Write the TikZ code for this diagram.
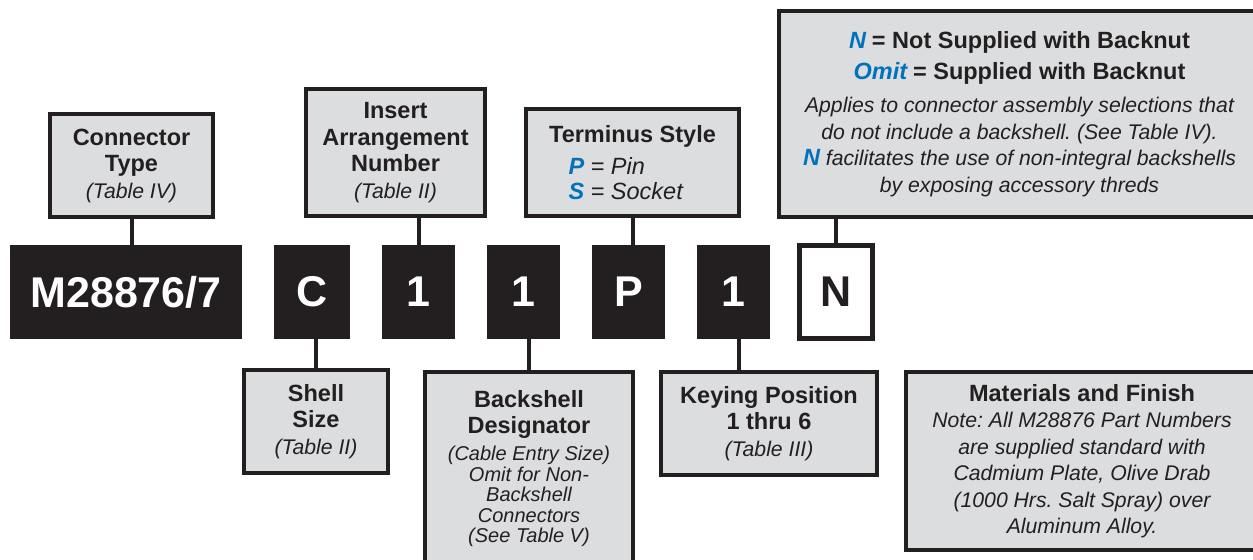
\documentclass[tikz,border=0pt]{standalone}
\usepackage{fontspec}
\setmainfont{Liberation Sans}
\usetikzlibrary{positioning}
\frenchspacing

\definecolor{ink}{HTML}{231F20}
\definecolor{boxgray}{HTML}{DCDDDF}
\definecolor{codeblue}{HTML}{0072BC}

\newcommand{\boxtitle}[1]{{\fontsize{11.75}{13.25}\selectfont\bfseries\upshape #1}}
\newcommand{\keyletter}[1]{{\fontsize{11.75}{13.25}\selectfont\bfseries\itshape\color{codeblue}#1}}

\begin{document}
\begin{tikzpicture}[
    x=0.5pt, y=-0.5pt,
    codebox/.style={rectangle, fill=ink, text=white, inner sep=0pt, outer sep=0pt, minimum width=36.5pt, minimum height=47pt, font=\fontsize{21.5}{24}\selectfont\bfseries},
    nbox/.style={rectangle, draw=ink, fill=white, line width=2.5pt, text=ink, inner sep=0pt, minimum width=36.5pt, minimum height=46.5pt, font=\fontsize{21.5}{24}\selectfont\bfseries},
    infobox/.style={rectangle, draw=ink, fill=boxgray, line width=2pt, align=center, inner sep=0pt, text=ink, font=\fontsize{10.6}{13.25}\selectfont\itshape},
    link/.style={draw=ink, line width=2pt}
]
\useasboundingbox (0,0) rectangle (1253,559);
\clip (0,0) rectangle (1253,559);

% Part number
\node[codebox, minimum width=116pt] (m) at (126,292) {M28876/7};
\node[codebox, minimum width=38pt, right=16pt of m] (c) {C};
\node[codebox, right=16pt of c] (ins) {1};
\node[codebox, right=16pt of ins] (bs) {1};
\node[codebox, right=16pt of bs] (p) {P};
\node[codebox, right=16pt of p] (key) {1};
\node[nbox, right=13.5pt of key] (nn) {N};

% Upper notes
\node[infobox, minimum width=81.5pt, minimum height=51.5pt] (ctype) at (131.5,165.5)
    {\boxtitle{Connector}\\\boxtitle{Type}\\(Table IV)};
\node[infobox, minimum width=89.5pt, minimum height=63.5pt] (arr) at (395.5,152.5)
    {\boxtitle{Insert}\\\boxtitle{Arrangement}\\\boxtitle{Number}\\(Table II)};
\node[infobox, minimum width=106.5pt, minimum height=53.5pt] (term) at (632.5,162.5)
    {\boxtitle{Terminus Style}\\[2.75pt]
     \makebox[64pt][l]{\fontsize{11.75}{13.25}\selectfont\keyletter{P} = Pin}\\[-0.75pt]
     \makebox[64pt][l]{\fontsize{11.75}{13.25}\selectfont\keyletter{S} = Socket}};
\node[infobox, minimum width=240.5pt, minimum height=103pt] (nnote) at (1019.5,114)
    {\keyletter{N} \boxtitle{= Not Supplied with Backnut}\\[2.25pt]
     \keyletter{Omit} \boxtitle{= Supplied with Backnut}\\[3.25pt]
     Applies to connector assembly selections that\\
     do not include a backshell. (See Table IV).\\
     \keyletter{N} facilitates the use of non-integral backshells\\
     by exposing accessory threds};

% Lower notes
\node[infobox, minimum width=72pt, minimum height=51.5pt] (shell) at (316,421.5)
    {\boxtitle{Shell}\\\boxtitle{Size}\\(Table II)};
\node[infobox, minimum width=104pt, minimum height=97pt, font=\fontsize{10}{10.25}\selectfont\itshape] (bsd) at (529,469)
    {\boxtitle{Backshell}\\[2.75pt]\boxtitle{Designator}\\[3.25pt]
     (Cable Entry Size)\\Omit for Non-\\Backshell\\Connectors\\(See Table V)};
\node[infobox, minimum width=108pt, minimum height=51.5pt] (keying) at (769,423.5)
    {\boxtitle{Keying Position}\\\boxtitle{1 thru 6}\\(Table III)};
\node[infobox, minimum width=176pt, minimum height=89pt] (mat) at (1082,461)
    {\boxtitle{Materials and Finish}\\
     Note: All M28876 Part Numbers\\
     are supplied standard with\\
     Cadmium Plate, Olive Drab\\
     (1000 Hrs. Salt Spray) over\\
     Aluminum Alloy.};

% Leaders
\draw[link] (ctype.south) -- (ctype.south |- m.north);
\draw[link] (arr.south -| ins.north) -- (ins.north);
\draw[link] (term.south) -- (term.south |- p.north);
\draw[link] (nnote.south -| nn.north) -- (nn.north);
\draw[link] (shell.north) -- (shell.north |- c.south);
\draw[link] (bsd.north) -- (bsd.north |- bs.south);
\draw[link] ([xshift=2.5pt]key.south) -- ([xshift=2.5pt]key.south |- keying.north);

\end{tikzpicture}
\end{document}
